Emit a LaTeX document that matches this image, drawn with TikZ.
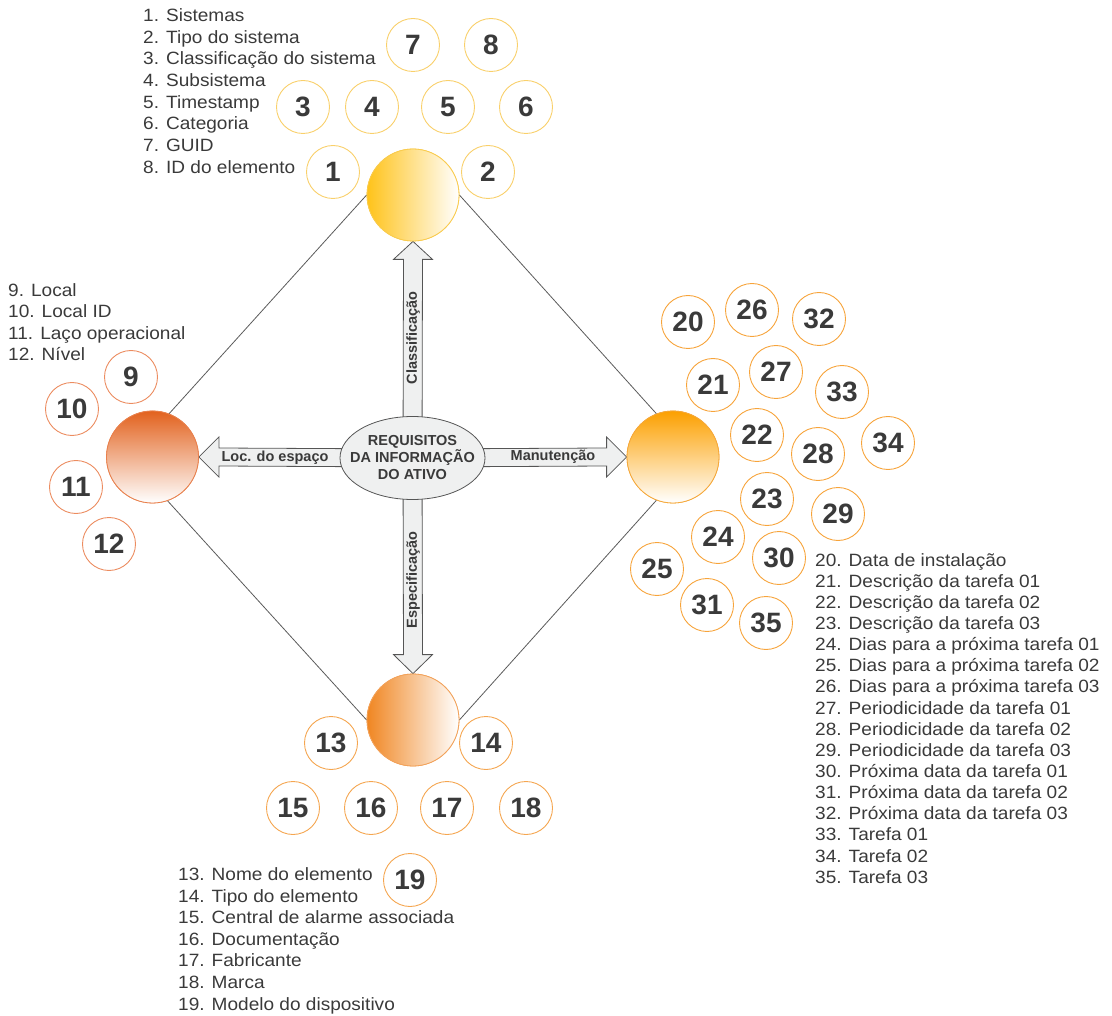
\documentclass[tikz,border=0pt]{standalone}
\usepackage{fontspec}
\setmainfont{Liberation Sans}
\newfontfamily\listfont[FakeStretch=1.07]{Liberation Sans}
\usetikzlibrary{calc,shapes.geometric}
\definecolor{txt}{HTML}{3A3A3A}
\definecolor{linegray}{HTML}{5A5A5A}
\definecolor{arrgray}{HTML}{555555}
\definecolor{arrfill}{HTML}{EFF0F0}
\definecolor{topc}{HTML}{FFC31A}
\definecolor{topb}{HTML}{F9CB4E}
\definecolor{tops}{HTML}{F9D06B}
\definecolor{leftc}{HTML}{E2621E}
\definecolor{leftb}{HTML}{E8804C}
\definecolor{lefts}{HTML}{EC8C60}
\definecolor{rightc}{HTML}{FCA000}
\definecolor{rightb}{HTML}{F5A83A}
\definecolor{rights}{HTML}{F7A43B}
\definecolor{botc}{HTML}{F08622}
\definecolor{botb}{HTML}{F2A25A}
\definecolor{bots}{HTML}{F5A650}
\begin{document}
\begin{tikzpicture}[x=1pt,y=-1pt,
  big/.style={circle, minimum size=92pt, inner sep=0pt, line width=0.8pt},
  sm/.style={circle, minimum size=53pt, inner sep=0pt, draw, line width=0.9pt, fill=white,
    font=\fontsize{28}{28}\selectfont\bfseries, text=txt},
  lst/.style={anchor=base west, inner sep=0pt, font=\listfont\fontsize{17.8}{20}\selectfont, text=txt},
  diag/.style={draw=linegray, line width=0.8pt},
  blk/.style={draw=arrgray, fill=arrfill, line width=0.8pt},
  lbl/.style={font=\fontsize{14.5}{17}\selectfont\bfseries, text=txt, inner sep=0pt}]
\useasboundingbox (0,0) rectangle (1112,1016);

% big circles (placed first as coordinates for lines)
\node[big, draw=topb, left color=topc, right color=white] (tc) at (413,195) {};
\node[big, draw=leftb, top color=leftc, bottom color=white] (lc) at (152.5,457) {};
\node[big, draw=rightb, top color=rightc, bottom color=white] (rc) at (673,457) {};
\node[big, draw=botb, left color=botc, right color=white] (bc) at (413,720) {};

% diamond lines
\draw[diag] (tc.180) -- (lc.69);
\draw[diag] (lc.-71) -- (bc.180);
\draw[diag] (tc.0) -- (rc.111);
\draw[diag] (rc.-111) -- (bc.0);

% center node coordinate
\coordinate (ctr) at (412.5,458);

% block arrows
\draw[blk] ($(ctr)+(0,-9)$) -- ($(lc.east)+(20,-9)$) -- ($(lc.east)+(20,-20)$) -- (lc.east)
  -- ($(lc.east)+(20,20)$) -- ($(lc.east)+(20,9)$) -- ($(ctr)+(0,9)$) -- cycle;
\draw[blk] ($(ctr)+(0,-9)$) -- ($(rc.west)+(-20,-9)$) -- ($(rc.west)+(-20,-20)$) -- (rc.west)
  -- ($(rc.west)+(-20,20)$) -- ($(rc.west)+(-20,9)$) -- ($(ctr)+(0,9)$) -- cycle;
\draw[blk] ($(ctr)+(-9.5,0)$) -- ($(tc.south)+(-9.5,18)$) -- ($(tc.south)+(-19.5,18)$) -- (tc.south)
  -- ($(tc.south)+(19.5,18)$) -- ($(tc.south)+(9.5,18)$) -- ($(ctr)+(9.5,0)$) -- cycle;
\draw[blk] ($(ctr)+(-9.5,0)$) -- ($(bc.north)+(-9.5,-19)$) -- ($(bc.north)+(-19.5,-19)$) -- (bc.north)
  -- ($(bc.north)+(19.5,-19)$) -- ($(bc.north)+(9.5,-19)$) -- ($(ctr)+(9.5,0)$) -- cycle;

% redraw big circles on top of arrows
\node[big, draw=topb, left color=topc, right color=white] at (tc) {};
\node[big, draw=leftb, top color=leftc, bottom color=white] at (lc) {};
\node[big, draw=rightb, top color=rightc, bottom color=white] at (rc) {};
\node[big, draw=botb, left color=botc, right color=white] at (bc) {};

% center ellipse
\node[ellipse, draw=arrgray, fill=arrfill, line width=0.8pt, minimum width=145pt, minimum height=83pt,
  inner sep=0pt] (ell) at (ctr) {};
\node[align=center, inner sep=0pt, font=\fontsize{14.5}{17}\selectfont\bfseries, text=txt] (et) at (ctr)
  {REQUISITOS\\DA INFORMAÇÃO\\DO ATIVO};

% arrow labels
\node[lbl] (l1) at (275,458) {Loc. do espaço};
\node[lbl] (l2) at (553,457) {Manutenção};
\node[lbl, rotate=90] (l3) at (413,338) {Classificação};
\node[lbl, rotate=90] (l4) at (413,580) {Especificação};

% small circles: top
\foreach \n/\x/\y in {7/413/45, 8/491/45, 3/303/107, 4/372/107, 5/448/107, 6/526/107, 1/333/172, 2/488/172}
  \node[sm, draw=tops] (s\n) at (\x,\y) {\n};
% left
\foreach \n/\x/\y in {9/131/377, 10/72/409, 11/76/487, 12/109/544}
  \node[sm, draw=lefts] (s\n) at (\x,\y) {\n};
% right
\foreach \n/\x/\y in {20/688/322, 26/752/310, 32/819/319, 21/713/385, 27/776/372, 33/842/392,
  22/757/435, 28/818/454, 34/888/443, 23/767/499, 29/838/514, 24/718/537, 30/779/558,
  25/657/569, 31/707/605, 35/766/623}
  \node[sm, draw=rights] (s\n) at (\x,\y) {\n};
% bottom
\foreach \n/\x/\y in {13/331/743, 14/486/743, 15/293/808, 16/371/808, 17/447/808, 18/526/808, 19/410/880}
  \node[sm, draw=bots] (s\n) at (\x,\y) {\n};

% lists
\foreach \t [count=\i from 0] in {1. Sistemas, 2. Tipo do sistema, 3. Classificação do sistema,
  4. Subsistema, 5. Timestamp, 6. Categoria, 7. GUID, 8. ID do elemento}
  \node[lst] (ta\i) at (143, 21.5+21.7*\i) {\t};
\foreach \t [count=\i from 0] in {9. Local, 10. Local ID, 11. Laço operacional, 12. Nível}
  \node[lst] (tb\i) at (8, 296.7+21.3*\i) {\t};
\foreach \t [count=\i from 0] in {13. Nome do elemento, 14. Tipo do elemento, 15. Central de alarme associada,
  16. Documentação, 17. Fabricante, 18. Marca, 19. Modelo do dispositivo}
  \node[lst] (tc\i) at (178, 880.7+21.55*\i) {\t};
\foreach \t [count=\i from 0] in {20. Data de instalação, 21. Descrição da tarefa 01, 22. Descrição da tarefa 02,
  23. Descrição da tarefa 03, 24. Dias para a próxima tarefa 01, 25. Dias para a próxima tarefa 02,
  26. Dias para a próxima tarefa 03, 27. Periodicidade da tarefa 01, 28. Periodicidade da tarefa 02,
  29. Periodicidade da tarefa 03, 30. Próxima data da tarefa 01, 31. Próxima data da tarefa 02,
  32. Próxima data da tarefa 03, 33. Tarefa 01, 34. Tarefa 02, 35. Tarefa 03}
  \node[lst] (td\i) at (815, 566+21.15*\i) {\t};
\end{tikzpicture}
\end{document}
